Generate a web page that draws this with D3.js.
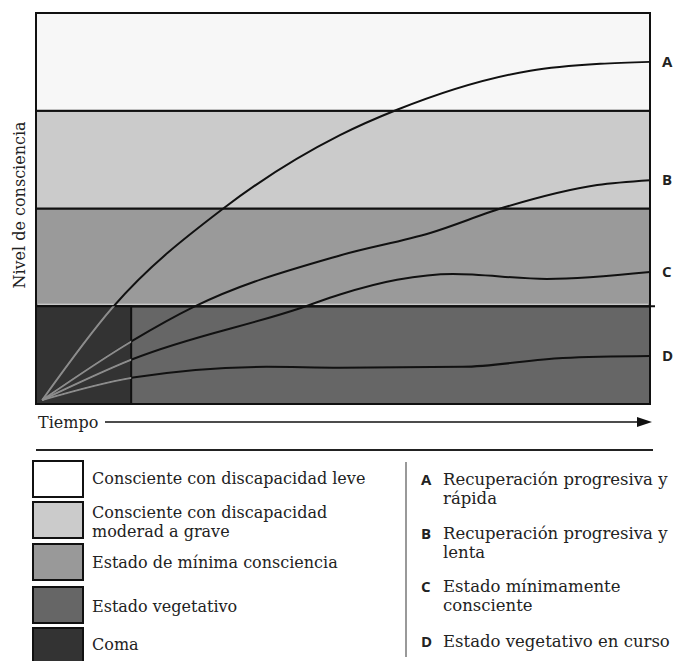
<!DOCTYPE html>
<html lang="es">
<head>
<meta charset="UTF-8">
<script src="https://d3js.org/d3.v7.min.js"></script>
<title>Nivel de consciencia</title>
<style>
  body { margin: 0; background: #fff; }
  text { font-family: "DejaVu Serif", serif; fill: #222; }
  .letra { font-family: "Open Sans", sans-serif; font-weight: bold; font-size: 15px; }
</style>
</head>
<body>
<script>
// bandas de nivel (de abajo hacia arriba)
var bandas = ["Estado vegetativo", "Estado de mínima consciencia",
              "Consciente con discapacidad moderad a grave", "Consciente con discapacidad leve"];
var coloresBanda = ["#666666", "#9a9a9a", "#cbcbcb", "#f7f7f7"];
var comaFin = 15.5;   // tiempo en que termina el coma

// trayectorias: tiempo (0-100) y nivel (0-4)
var tiempo = {
  A: [1, 12.5, 30.5, 49.5, 58.8, 80.5, 91.9, 100],
  B: [1, 15.8, 25.6, 49.5, 64.2, 76.7, 91.4, 100],
  C: [1, 15.8, 43, 49.5, 58.8, 67.9, 83.2, 100],
  D: [1, 15.8, 37.6, 49.5, 69.5, 85.8, 100]
};
var nivel = {
  A: [0.04, 0.99, 2.0, 2.75, 3.01, 3.41, 3.48, 3.5],
  B: [0.04, 0.65, 0.99, 1.52, 1.75, 2.02, 2.24, 2.29],
  C: [0.04, 0.46, 0.98, 1.12, 1.27, 1.33, 1.28, 1.35],
  D: [0.04, 0.27, 0.38, 0.37, 0.38, 0.47, 0.49]
};
var letras = ["A", "B", "C", "D"];

var leyendaIzq = [
  ["Consciente con discapacidad leve"],
  ["Consciente con discapacidad", "moderad a grave"],
  ["Estado de mínima consciencia"],
  ["Estado vegetativo"],
  ["Coma"]
];
var coloresLeyenda = ["#ffffff", "#cbcbcb", "#999999", "#666666", "#333333"];
var leyendaDer = [
  ["Recuperación progresiva y", "rápida"],
  ["Recuperación progresiva y", "lenta"],
  ["Estado mínimamente", "consciente"],
  ["Estado vegetativo en curso"]
];

var svg = d3.select("body").append("svg").attr("width", 676).attr("height", 661);

var x = d3.scaleLinear().domain([0, 100]).range([36, 650]);
var y = d3.scaleLinear().domain([0, 4]).range([404, 13]);

// bandas
svg.selectAll("rect.banda").data(bandas).enter().append("rect")
  .attr("class", "banda")
  .attr("x", x(0)).attr("width", x(100) - x(0))
  .attr("y", function (d, i) { return y(i + 1); })
  .attr("height", function (d, i) { return y(i) - y(i + 1); })
  .attr("fill", function (d, i) { return coloresBanda[i]; })
  .attr("stroke", "#111").attr("stroke-width", 2);

// linea clara sobre el estado vegetativo
svg.append("line").attr("x1", x(0) + 2).attr("x2", x(100) - 2)
  .attr("y1", y(1) - 2).attr("y2", y(1) - 2)
  .attr("stroke", "#d8d8d8").attr("stroke-width", 1);
svg.append("line").attr("x1", x(0)).attr("x2", x(100) + 5)
  .attr("y1", y(1)).attr("y2", y(1))
  .attr("stroke", "#111").attr("stroke-width", 2);

// coma
svg.append("rect").attr("x", x(0)).attr("y", y(1))
  .attr("width", x(comaFin) - x(0)).attr("height", y(0) - y(1))
  .attr("fill", "#333333").attr("stroke", "#111").attr("stroke-width", 2);

svg.append("clipPath").attr("id", "clipComa").append("rect")
  .attr("x", x(0)).attr("y", y(1)).attr("width", x(comaFin) - x(0)).attr("height", y(0) - y(1));

var linea = d3.line()
  .x(function (d) { return x(d[0]); })
  .y(function (d) { return y(d[1]); })
  .curve(d3.curveMonotoneX);

function puntos(k) { return tiempo[k].map(function (t, i) { return [t, nivel[k][i]]; }); }

svg.selectAll("path.tray").data(letras).enter().append("path")
  .attr("class", "tray")
  .attr("d", function (k) { return linea(puntos(k)); })
  .attr("fill", "none").attr("stroke", "#111").attr("stroke-width", 2);

svg.selectAll("path.trayComa").data(letras).enter().append("path")
  .attr("class", "trayComa")
  .attr("clip-path", "url(#clipComa)")
  .attr("d", function (k) { return linea(puntos(k)); })
  .attr("fill", "none").attr("stroke", "#8c8c8c").attr("stroke-width", 2);

// letras al final
svg.selectAll("text.fin").data(letras).enter().append("text")
  .attr("class", "letra fin")
  .attr("x", 662)
  .attr("y", function (k) { var n = nivel[k]; return y(n[n.length - 1]) + 5; })
  .text(function (k) { return k; });

// eje Y
svg.append("text")
  .attr("transform", "translate(25," + 205 + ") rotate(-90)")
  .attr("text-anchor", "middle").style("font-size", "16px")
  .text("Nivel de consciencia");

// eje de tiempo
svg.append("text").attr("x", 38).attr("y", 428).style("font-size", "16px").text("Tiempo");
svg.append("line").attr("x1", 105).attr("x2", 640).attr("y1", 422).attr("y2", 422)
  .attr("stroke", "#111").attr("stroke-width", 1.5);
svg.append("path").attr("d", d3.line()([[637, 417], [652, 422], [637, 427]]) + "Z").attr("fill", "#111");

// separador
svg.append("line").attr("x1", 36).attr("x2", 653).attr("y1", 450).attr("y2", 450)
  .attr("stroke", "#222").attr("stroke-width", 2);

// leyenda izquierda
var cajas = [461, 502, 544, 587, 628];
var baseIzq = [[484], [518, 537], [568], [612], [650]];
leyendaIzq.forEach(function (lineas, i) {
  svg.append("rect").attr("x", 33).attr("y", cajas[i]).attr("width", 50).attr("height", 36)
    .attr("fill", coloresLeyenda[i]).attr("stroke", "#111").attr("stroke-width", 2);
  lineas.forEach(function (t, j) {
    svg.append("text").attr("x", 92).attr("y", baseIzq[i][j]).style("font-size", "16px").text(t);
  });
});

// divisor
svg.append("line").attr("x1", 406).attr("x2", 406).attr("y1", 462).attr("y2", 657)
  .attr("stroke", "#777").attr("stroke-width", 1.5);

// leyenda derecha
var baseDer = [[485, 504], [539, 558], [592, 611], [647]];
leyendaDer.forEach(function (lineas, i) {
  svg.append("text").attr("class", "letra").attr("x", 421).attr("y", baseDer[i][0]).text(letras[i]);
  lineas.forEach(function (t, j) {
    svg.append("text").attr("x", 443).attr("y", baseDer[i][j]).style("font-size", "16.5px").text(t);
  });
});
</script>
</body>
</html>
